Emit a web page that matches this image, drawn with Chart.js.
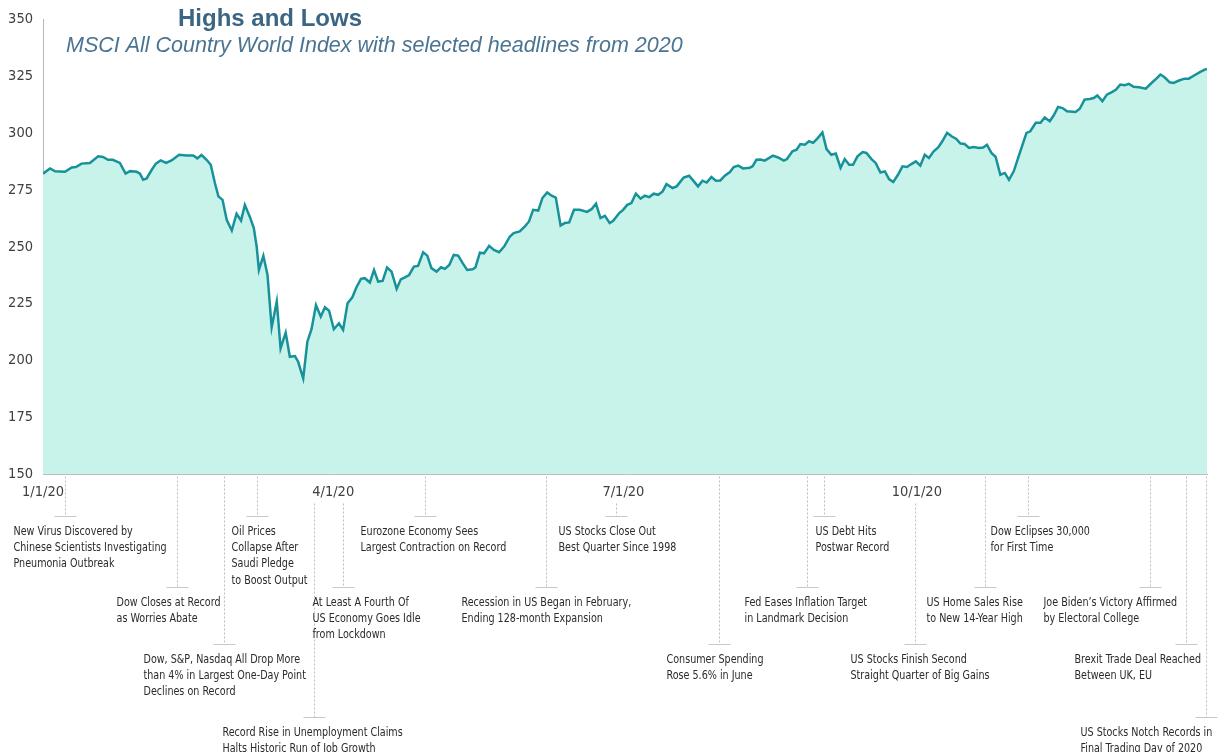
<!DOCTYPE html>
<html>
<head>
<meta charset="utf-8">
<script src="https://cdn.jsdelivr.net/npm/chart.js@4"></script>
<style>
  html, body { margin: 0; padding: 0; background: #fff; }
  #wrap { width: 1218px; height: 752px; position: relative; }
</style>
</head>
<body>
<div id="wrap"><canvas id="chart"></canvas></div>
<script>
// MSCI ACWI 2020, x = days since 1/1/20
const days = [0, 2.2, 3.8, 6.9, 9.0, 10.3, 12.1, 14.7, 17.3, 18.8, 20.4, 21.9, 24.1, 25.9, 27.3, 29.4, 30.4, 31.4, 32.5, 34.1,
  35.4, 36.9, 38.6, 40.3, 42.7, 45.0, 47.1, 48.4, 49.7, 51.3, 52.6, 53.9, 55.0, 56.3, 57.6, 59.2, 60.7, 62.1, 63.3, 64.9,
  66.1, 67.0, 67.7, 69.1, 70.4, 71.7, 73.3, 74.5, 76.1, 77.4, 79.0, 80.0, 81.6, 82.9, 84.2, 85.6, 87.1, 88.4, 89.7, 91.2,
  92.8, 94.1, 95.5, 97.0, 98.3, 99.7, 100.9, 102.5, 103.8, 105.1, 106.5, 107.9, 109.3, 110.9, 112.2, 113.5, 114.8, 116.3, 117.6, 119.2,
  120.5, 121.8, 123.4, 124.8, 126.0, 127.4, 128.8, 130.2, 131.6, 133.0, 134.7, 135.6, 137.0, 138.3, 139.9, 141.4, 143.0, 144.6, 146.4, 147.6,
  149.5, 151.1, 152.4, 153.7, 155.3, 156.6, 158.1, 159.5, 160.8, 162.3, 163.6, 165.0, 166.5, 168.3, 170.6, 172.0, 173.4, 174.8, 176.2, 177.7,
  178.8, 180.7, 181.9, 183.2, 184.5, 185.9, 187.4, 188.7, 190.1, 191.5, 192.9, 194.3, 195.5, 197.4, 198.7, 200.9, 202.6, 204.1, 205.4, 206.8,
  208.1, 209.6, 211.0, 212.4, 213.8, 215.4, 216.6, 218.0, 219.5, 221.6, 222.5, 223.7, 225.0, 226.3, 228.9, 230.5, 232.3, 233.3, 235.0, 236.3,
  237.5, 238.9, 240.2, 241.5, 243.0, 244.4, 245.7, 247.2, 248.6, 250.1, 251.4, 252.8, 254.0, 255.4, 257.0, 258.2, 259.8, 261.1, 262.6, 264.0,
  265.3, 266.6, 268.1, 269.5, 270.9, 272.3, 273.7, 275.1, 276.5, 277.8, 279.3, 280.7, 282.0, 283.5, 284.9, 286.4, 287.7, 289.0, 290.4, 291.8,
  293.5, 294.8, 296.0, 297.4, 298.7, 300.2, 301.6, 302.9, 304.4, 306.3, 308.4, 309.6, 311.3, 312.8, 314.1, 315.7, 316.9, 318.3, 319.7, 321.1,
  323.8, 325.1, 326.6, 328.2, 329.5, 330.6, 332.2, 333.6, 335.3, 336.4, 337.8, 339.2, 340.5, 342.0, 343.7, 345.8, 347.6, 349.1, 350.4, 351.7,
  353.3, 354.5, 356.4, 358.0, 359.3, 361.1, 362.9, 364.3, 365];
const values = [282.1, 284.4, 283.1, 282.9, 284.8, 285.0, 286.5, 286.8, 289.7, 289.4, 288.2, 288.2, 286.8, 282.1, 283.2, 282.9, 282.1, 279.4, 280.0, 283.8,
  286.5, 287.9, 286.8, 287.9, 290.4, 290.1, 290.1, 288.8, 290.3, 288.2, 286.0, 278.0, 272.1, 270.6, 261.8, 257.1, 264.5, 261.5, 268.3, 263.0,
  258.2, 250.1, 239.8, 246.0, 237.6, 214.6, 225.9, 205.4, 212.3, 201.7, 202.0, 199.5, 192.2, 208.3, 213.8, 224.4, 219.3, 223.4, 221.9, 213.8,
  216.4, 213.5, 225.2, 227.8, 232.2, 235.9, 236.2, 234.3, 239.8, 234.7, 235.0, 240.9, 239.1, 231.5, 235.7, 236.6, 237.6, 241.3, 241.6, 247.6,
  246.1, 240.6, 239.1, 241.0, 240.3, 242.0, 246.4, 246.1, 242.8, 239.8, 240.1, 240.9, 247.4, 247.1, 250.4, 248.6, 247.6, 250.1, 254.5, 256.0,
  256.7, 258.9, 261.1, 266.2, 265.9, 271.4, 273.8, 272.4, 271.6, 259.3, 260.4, 260.7, 266.2, 266.2, 265.3, 266.5, 268.9, 262.6, 263.6, 260.4,
  261.4, 264.8, 266.2, 268.4, 269.2, 273.3, 271.1, 272.4, 271.8, 273.3, 272.8, 274.3, 277.5, 275.8, 276.5, 280.4, 281.2, 278.7, 276.5, 279.0,
  278.2, 280.6, 279.0, 279.1, 281.2, 282.8, 285.0, 285.6, 284.4, 284.7, 285.3, 288.2, 288.3, 287.8, 290.0, 289.2, 287.8, 288.5, 291.9, 292.6,
  295.1, 294.8, 296.3, 295.6, 297.8, 300.2, 292.9, 290.4, 290.9, 284.6, 288.5, 286.0, 286.0, 289.7, 291.6, 291.2, 288.5, 286.8, 282.6, 283.1,
  279.7, 278.4, 281.6, 285.3, 285.0, 286.3, 287.5, 285.6, 290.4, 289.0, 291.9, 293.6, 296.3, 300.0, 298.5, 297.3, 295.3, 295.1, 293.4, 293.8,
  293.4, 293.6, 294.8, 291.2, 289.5, 281.6, 282.4, 279.4, 283.1, 291.2, 300.0, 300.7, 304.4, 304.4, 306.8, 305.1, 307.6, 311.4, 310.9, 309.5,
  309.2, 310.6, 314.6, 314.9, 315.3, 316.4, 313.9, 316.8, 318.0, 318.9, 321.2, 320.9, 321.5, 320.2, 320.0, 319.4, 321.9, 323.8, 325.6, 324.4,
  322.2, 321.9, 323.1, 323.8, 323.8, 325.3, 326.8, 327.8, 328.1];

const tickDays = [0, 91, 182, 274];
const tickLabels = ['1/1/20', '4/1/20', '7/1/20', '10/1/20'];

// headlines
const eventDays = [6.9, 41.9, 56.8, 67, 85, 94.1, 119.7, 157.6, 179.6, 212, 239.6, 244.9, 273.4, 295.3, 308.9, 347.2, 358.3, 364.8];
const eventTexts = [
  'New Virus Discovered by\nChinese Scientists Investigating\nPneumonia Outbreak',
  'Dow Closes at Record\nas Worries Abate',
  'Dow, S&P, Nasdaq All Drop More\nthan 4% in Largest One-Day Point\nDeclines on Record',
  'Oil Prices\nCollapse After\nSaudi Pledge\nto Boost Output',
  'Record Rise in Unemployment Claims\nHalts Historic Run of Job Growth',
  'At Least A Fourth Of\nUS Economy Goes Idle\nfrom Lockdown',
  'Eurozone Economy Sees\nLargest Contraction on Record',
  'Recession in US Began in February,\nEnding 128-month Expansion',
  'US Stocks Close Out\nBest Quarter Since 1998',
  'Consumer Spending\nRose 5.6% in June',
  'Fed Eases Inflation Target\nin Landmark Decision',
  'US Debt Hits\nPostwar Record',
  'US Stocks Finish Second\nStraight Quarter of Big Gains',
  'US Home Sales Rise\nto New 14-Year High',
  'Dow Eclipses 30,000\nfor First Time',
  'Joe Biden\u2019s Victory Affirmed\nby Electoral College',
  'Brexit Trade Deal Reached\nBetween UK, EU',
  'US Stocks Notch Records in\nFinal Trading Day of 2020'
];
const eventRows = [0, 1, 2, 0, 3, 1, 0, 1, 0, 2, 1, 0, 2, 1, 0, 1, 2, 3];

// layout of the headline block (px)
const textShift = [-52, -61, -81, -26, -92, -31, -65, -85, -58, -53, -63, -9, -65, -59, -38, -107, -112, -126];
const rowOffset = [41, 112, 169, 242];
const narrow = '"DejaVu Sans Condensed", "DejaVu Sans", sans-serif';

const headlines = {
  id: 'headlines',
  afterDraw(chart) {
    const ctx = chart.ctx, xs = chart.scales.x, area = chart.chartArea;
    ctx.save();
    ctx.font = '13px ' + narrow;
    ctx.textBaseline = 'middle';
    ctx.textAlign = 'left';
    eventDays.forEach((d, i) => {
      const px = Math.round(xs.getPixelForValue(d)) + 0.5;
      const nearLabel = tickDays.some(t => Math.abs(xs.getPixelForValue(t) - px) < 21);
      const y0 = nearLabel ? area.bottom + 29 : area.bottom + 2;
      const y1 = Math.round(area.bottom + rowOffset[eventRows[i]]) + 0.5;
      ctx.strokeStyle = '#bdbdbd';
      ctx.lineWidth = 1;
      ctx.setLineDash([2, 2]);
      ctx.beginPath();
      ctx.moveTo(px, y0);
      ctx.lineTo(px, y1);
      ctx.stroke();
      ctx.setLineDash([]);
      ctx.strokeStyle = '#c8c8c8';
      ctx.beginPath();
      ctx.moveTo(px - 11, y1);
      ctx.lineTo(px + 11, y1);
      ctx.stroke();
      ctx.fillStyle = '#2b2b2b';
      eventTexts[i].split('\n').forEach((line, k) => {
        ctx.save();
        ctx.translate(px + textShift[i], y1 + 15 + k * 16.3);
        ctx.scale(0.82, 1);
        ctx.fillText(line, 0, 0);
        ctx.restore();
      });
    });
    // title block
    ctx.textBaseline = 'alphabetic';
    ctx.textAlign = 'center';
    ctx.fillStyle = '#3b6583';
    ctx.font = 'bold 24px "Liberation Sans", Arial, sans-serif';
    ctx.fillText('Highs and Lows', 270, 26);
    ctx.textAlign = 'left';
    ctx.fillStyle = '#4a7492';
    ctx.font = 'italic 21.5px "Liberation Sans", Arial, sans-serif';
    ctx.fillText('MSCI All Country World Index with selected headlines from 2020', 66, 51.5);
    ctx.restore();
  }
};

new Chart(document.getElementById('chart'), {
  type: 'line',
  data: {
    datasets: [{
      data: days.map((d, i) => ({ x: d, y: values[i] })),
      borderColor: '#17929b',
      backgroundColor: '#c8f3ea',
      borderWidth: 2.5,
      fill: 'start',
      pointRadius: 0,
      tension: 0
    }]
  },
  options: {
    responsive: true,
    maintainAspectRatio: false,
    animation: false,
    layout: { padding: { top: 19, right: 11, left: 0, bottom: 0 } },
    plugins: { legend: { display: false }, tooltip: { enabled: false } },
    scales: {
      x: {
        type: 'linear',
        min: 0,
        max: 365,
        afterBuildTicks: axis => { axis.ticks = tickDays.map(v => ({ value: v })); },
        afterFit: axis => { axis.height = 277.5; },
        grid: { display: false, drawTicks: false },
        border: { display: true, color: '#b8b8b8', dash: [2, 1] },
        ticks: {
          autoSkip: false,
          maxRotation: 0,
          padding: 9,
          color: '#404040',
          font: { family: narrow, size: 14.5 },
          callback: (v) => tickLabels[tickDays.indexOf(v)]
        }
      },
      y: {
        min: 150,
        max: 350,
        afterFit: axis => { axis.width = 43; },
        grid: { display: false, drawTicks: false },
        border: { display: true, color: '#b8b8b8', dash: [2, 1] },
        ticks: {
          stepSize: 25,
          padding: 10,
          color: '#404040',
          font: { family: narrow, size: 14.5 }
        }
      }
    }
  },
  plugins: [headlines]
});
</script>
</body>
</html>
